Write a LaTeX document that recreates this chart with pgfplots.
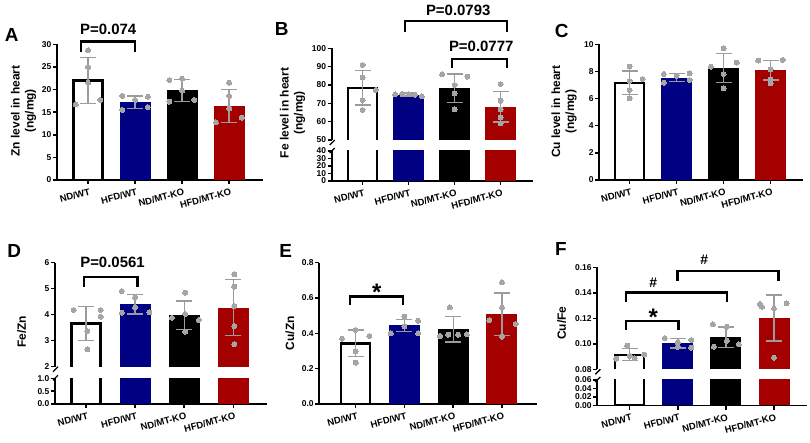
\documentclass[border=0pt]{standalone}
\usepackage{fontspec}
\setmainfont{Liberation Sans}
\usepackage{pgfplots}
\pgfplotsset{compat=1.18}
\definecolor{navyc}{RGB}{0,0,130}
\definecolor{redc}{RGB}{165,0,0}
\definecolor{ptc}{RGB}{165,165,165}
\definecolor{errc}{RGB}{155,155,155}
\pgfplotsset{
 base/.style={scale only axis, clip mode=individual, anchor=south west,
   axis y line*=left, axis line style={line width=1.8bp,-},
   tick style={line width=1.5bp, black}, major tick length=4bp, tick align=outside,
   yticklabel style={font=\bfseries\fontsize{8.5}{9}\selectfont, inner sep=1.5bp},
   scaled y ticks=false, /pgf/number format/assume math mode=true},
 lowerx/.style={axis x line*=bottom, xtick={0,1,2,3},
   xticklabels={ND/WT,HFD/WT,ND/MT-KO,HFD/MT-KO},
   xticklabel style={font=\bfseries\fontsize{9.5}{10}\selectfont, rotate=15, anchor=north east, inner sep=0pt, yshift=-4bp}},
 upperx/.style={axis x line=none, xtick=\empty},
 bwt/.style={ybar, bar width=29bp, bar shift=0pt, draw=black, line width=2.2bp, fill=white},
 bwf/.style={ybar, bar width=29bp, bar shift=0pt, draw=none, fill=white},
 wline/.style={black, line width=2.2bp, mark=none, line join=miter},
 bnv/.style={ybar, bar width=31bp, bar shift=0pt, draw=none, fill=navyc},
 bbk/.style={ybar, bar width=31bp, bar shift=0pt, draw=none, fill=black},
 brd/.style={ybar, bar width=31bp, bar shift=0pt, draw=none, fill=redc},
 errb/.style={draw=none, mark=none, error bars/.cd, y dir=both, y explicit,
   error bar style={draw=errc, line width=1.4bp},
   error mark options={draw=errc, line width=1.4bp, mark size=8bp, rotate=90}},
 pts/.style={only marks, mark=*, mark size=2.5bp, mark options={draw=ptc, fill=ptc, line width=0pt}},
}
\tikzset{brk/.style={line width=2.4bp, black},
 ptext/.style={font=\bfseries\fontsize{15}{15}\selectfont, inner sep=0pt},
 star/.style={font=\bfseries\fontsize{24}{24}\selectfont, inner sep=0pt, anchor=base},
 hash/.style={font=\bfseries\fontsize{14}{14}\selectfont, inner sep=0pt},
 ylab/.style={rotate=90, align=center, font=\bfseries\fontsize{12}{14}\selectfont, inner sep=0pt},
 plet/.style={font=\bfseries\fontsize{19}{19}\selectfont, inner sep=0pt},
 slash/.style={line width=1.3bp, black}}
\begin{document}
\begin{tikzpicture}
\useasboundingbox (0,0) rectangle (810bp,443bp);
% ---------------- A ----------------
\begin{axis}[base, lowerx, at={(57bp,263bp)}, width=206bp, height=135.7bp,
  xmin=-0.66, xmax=3.72, ymin=0, ymax=30, ytick={0,5,10,15,20,25,30}]
\addplot[bwt] coordinates {(0,22.0)};
\addplot[bnv] coordinates {(1,17.2)};
\addplot[bbk] coordinates {(2,19.8)};
\addplot[brd] coordinates {(3,16.4)};
\addplot[errb] coordinates {(0,22.0) +- (0,5.05) (1,17.2) +- (0,1.4) (2,19.8) +- (0,2.45) (3,16.4) +- (0,3.65)};
\addplot[pts] coordinates {(0,28.7) (0,25.0) (0,21.5) (-0.26,16.7) (0.26,17.7)
 (0.73,18.6) (1.27,18.4) (1,17.7) (0.73,15.5) (1.27,16.1)
 (1.73,22.1) (2,22.4) (2,19.75) (1.73,17.3) (2.26,17.7)
 (3,21.5) (3,18.6) (3,15.8) (3.27,13.8) (2.72,12.75)};
\draw[brk] (axis cs:-0.149,28.4) -- (axis cs:-0.149,30.6) -- (axis cs:1.0,30.6) -- (axis cs:1.0,28.4);
\node[ptext] at (axis cs:0.43,33.3) {P=0.074};
\end{axis}
% ---------------- B upper ----------------
\begin{axis}[base, upperx, at={(331.7bp,303bp)}, width=201.3bp, height=91.7bp,
  xmin=-0.67, xmax=3.706, ymin=50, ymax=100, ytick={50,60,70,80,90,100}]
\addplot[bwf] coordinates {(0,78.5)};
\addplot[wline] coordinates {(-0.315,50) (-0.315,78.5) (0.315,78.5) (0.315,50)};
\addplot[bnv] coordinates {(1,74.8)};
\addplot[bbk] coordinates {(2,78.3)};
\addplot[brd] coordinates {(3,68.1)};
\addplot[errb] coordinates {(0,78.5) +- (0,9.5) (1,74.8) +- (0,0.8) (2,78.3) +- (0,7.7) (3,68.1) +- (0,8.2)};
\addplot[pts] coordinates {(0,90.9) (0,84.2) (0.29,77.3) (0,71.8) (0,66.4)
 (0.71,74.9) (0.86,75.1) (1,74.9) (1.14,74.7) (1.29,73.9)
 (1.73,85.8) (2.28,84.5) (2,80.0) (2,75.5) (2,66.7)
 (3,80.5) (3,71.4) (3,66.7) (3,62.4) (3,59.1)};
\draw[brk] (axis cs:0.924,109.0) -- (axis cs:0.924,115.0) -- (axis cs:3.135,115.0) -- (axis cs:3.135,109.0);
\node[ptext] at (axis cs:2.08,120.5) {P=0.0793};
\draw[brk] (axis cs:1.94,89.1) -- (axis cs:1.94,94.2) -- (axis cs:3.135,94.2) -- (axis cs:3.135,89.1);
\node[ptext] at (axis cs:2.58,100.9) {P=0.0777};
\draw[slash] ([shift={(-2bp,-5bp)}]rel axis cs:0,0) -- ([shift={(3bp,0bp)}]rel axis cs:0,0);
\end{axis}
% ---------------- B lower ----------------
\begin{axis}[base, lowerx, at={(331.7bp,262bp)}, width=201.3bp, height=30bp,
  xmin=-0.67, xmax=3.706, ymin=0, ymax=40, ytick={0,10,20,30,40}]
\addplot[bwt] coordinates {(0,78.5)};
\addplot[bnv] coordinates {(1,74.8)};
\addplot[bbk] coordinates {(2,78.3)};
\addplot[brd] coordinates {(3,68.1)};
\draw[slash] ([shift={(-2bp,-2bp)}]rel axis cs:0,1) -- ([shift={(3bp,3bp)}]rel axis cs:0,1);
\end{axis}
% ---------------- C ----------------
\begin{axis}[base, lowerx, at={(599.3bp,263bp)}, width=203.7bp, height=135.7bp,
  xmin=-0.643, xmax=3.691, ymin=0, ymax=10, ytick={0,2,4,6,8,10}]
\addplot[bwt] coordinates {(0,7.17)};
\addplot[bnv] coordinates {(1,7.55)};
\addplot[bbk] coordinates {(2,8.26)};
\addplot[brd] coordinates {(3,8.08)};
\addplot[errb] coordinates {(0,7.17) +- (0,0.85) (1,7.55) +- (0,0.3) (2,8.26) +- (0,1.07) (3,8.08) +- (0,0.72)};
\addplot[pts] coordinates {(0,8.35) (0.28,7.44) (0,7.3) (0,6.63) (0,6.02)
 (0.73,7.81) (1,7.67) (1.28,7.86) (0.73,7.17) (1.28,7.37)
 (2,9.7) (1.73,8.35) (2.28,8.65) (2,7.81) (2,6.76)
 (2.74,8.8) (3.26,8.85) (3,8.16) (3,7.42) (3,7.13)};
\end{axis}
% ---------------- D upper ----------------
\begin{axis}[base, upperx, at={(55bp,76.3bp)}, width=211.7bp, height=104bp,
  xmin=-0.631, xmax=3.68, ymin=2, ymax=6, ytick={2,3,4,5,6}]
\addplot[bwf] coordinates {(0,3.66)};
\addplot[wline] coordinates {(-0.295,2) (-0.295,3.66) (0.295,3.66) (0.295,2)};
\addplot[bnv] coordinates {(1,4.40)};
\addplot[bbk] coordinates {(2,3.98)};
\addplot[brd] coordinates {(3,4.27)};
\addplot[errb] coordinates {(0,3.66) +- (0,0.66) (1,4.40) +- (0,0.37) (2,3.98) +- (0,0.55) (3,4.27) +- (0,1.08)};
\addplot[pts] coordinates {(-0.25,4.18) (0.3,4.18) (0.3,3.92) (0.03,3.37) (0.03,2.67)
 (0.73,4.91) (1,4.67) (0.73,4.08) (1,4.28) (1.29,4.09)
 (2.02,4.85) (2.02,4.03) (1.75,3.88) (2.3,3.8) (2.02,3.35)
 (3.02,5.55) (3.02,5.08) (3.02,4.33) (3.02,3.56) (3.02,2.87)};
\draw[brk] (axis cs:-0.035,5.08) -- (axis cs:-0.035,5.44) -- (axis cs:1.047,5.44) -- (axis cs:1.047,5.08);
\node[ptext] at (axis cs:0.54,6.0) {P=0.0561};
\draw[slash] ([shift={(-2bp,-5bp)}]rel axis cs:0,0) -- ([shift={(3bp,0bp)}]rel axis cs:0,0);
\end{axis}
% ---------------- D lower ----------------
\begin{axis}[base, lowerx, at={(55bp,39bp)}, width=211.7bp, height=25.7bp,
  xmin=-0.631, xmax=3.68, ymin=0, ymax=1, ytick={0,0.5,1}, yticklabels={0.0,0.5,1.0}]
\addplot[bwt] coordinates {(0,3.66)};
\addplot[bnv] coordinates {(1,4.40)};
\addplot[bbk] coordinates {(2,3.98)};
\addplot[brd] coordinates {(3,4.27)};
\draw[slash] ([shift={(-2bp,-2bp)}]rel axis cs:0,1) -- ([shift={(3bp,3bp)}]rel axis cs:0,1);
\end{axis}
% ---------------- E ----------------
\begin{axis}[base, lowerx, at={(319.3bp,39bp)}, width=217.7bp, height=141.3bp,
  xmin=-0.746, xmax=3.718, ymin=0, ymax=0.8, ytick={0,0.2,0.4,0.6,0.8}, yticklabels={0.0,0.2,0.4,0.6,0.8}]
\addplot[bwt] coordinates {(0,0.343)};
\addplot[bnv] coordinates {(1,0.445)};
\addplot[bbk] coordinates {(2,0.422)};
\addplot[brd] coordinates {(3,0.509)};
\addplot[errb] coordinates {(0,0.343) +- (0,0.075) (1,0.445) +- (0,0.035) (2,0.422) +- (0,0.072) (3,0.509) +- (0,0.12)};
\addplot[pts] coordinates {(0,0.419) (-0.28,0.37) (0.28,0.385) (0,0.298) (0,0.234)
 (0.72,0.40) (1,0.438) (1.28,0.40) (1,0.494) (1.28,0.472)
 (1.93,0.547) (1.73,0.385) (1.9,0.392) (2.1,0.392) (2.28,0.394)
 (3,0.689) (3,0.547) (2.74,0.475) (3.28,0.453) (3,0.381)};
\draw[brk] (axis cs:-0.117,0.561) -- (axis cs:-0.117,0.608) -- (axis cs:0.975,0.608) -- (axis cs:0.975,0.561);
\node[star] at (axis cs:0.43,0.587) {*};
\end{axis}
% ---------------- F upper ----------------
\begin{axis}[base, upperx, at={(597.3bp,73.7bp)}, width=209.7bp, height=102bp,
  xmin=-0.674, xmax=3.686, ymin=0.08, ymax=0.16, ytick={0.08,0.10,0.12,0.14,0.16},
  yticklabels={0.08,0.10,0.12,0.14,0.16}]
\addplot[bwf] coordinates {(0,0.0915)};
\addplot[wline] coordinates {(-0.301,0.08) (-0.301,0.0915) (0.301,0.0915) (0.301,0.08)};
\addplot[bnv] coordinates {(1,0.1004)};
\addplot[bbk] coordinates {(2,0.1053)};
\addplot[brd] coordinates {(3,0.1203)};
\addplot[errb] coordinates {(0,0.0915) +- (0,0.0047) (1,0.1004) +- (0,0.0037) (2,0.1053) +- (0,0.008) (3,0.1203) +- (0,0.018)};
\addplot[pts] coordinates {(-0.28,0.0883) (-0.05,0.0985) (0.3,0.0916) (0.1,0.0885) (0,0.0905)
 (0.73,0.1045) (1,0.101) (1.28,0.103) (1,0.0975) (1.28,0.097)
 (1.73,0.1153) (2.02,0.1135) (2.02,0.1025) (1.75,0.0977) (2.27,0.0995)
 (2.71,0.1312) (3.26,0.1317) (3,0.1275) (2.75,0.129) (3,0.0892)};
\draw[brk] (axis cs:-0.077,0.1108) -- (axis cs:-0.077,0.1181) -- (axis cs:1.01,0.1181) -- (axis cs:1.01,0.1108);
\node[star] at (axis cs:0.49,0.1142) {*};
\draw[brk] (axis cs:-0.077,0.133) -- (axis cs:-0.077,0.1401) -- (axis cs:2.017,0.1401) -- (axis cs:2.017,0.133);
\node[hash] at (axis cs:0.49,0.1479) {\#};
\draw[brk] (axis cs:0.99,0.1495) -- (axis cs:0.99,0.1573) -- (axis cs:3.09,0.1573) -- (axis cs:3.09,0.1495);
\node[hash] at (axis cs:1.55,0.1663) {\#};
\draw[slash] ([shift={(-2bp,-5bp)}]rel axis cs:0,0) -- ([shift={(3bp,0bp)}]rel axis cs:0,0);
\end{axis}
% ---------------- F lower ----------------
\begin{axis}[base, lowerx, at={(597.3bp,37.5bp)}, width=209.7bp, height=25.5bp,
  xmin=-0.674, xmax=3.686, ymin=0, ymax=0.06, ytick={0,0.02,0.04,0.06},
  yticklabels={0.00,0.02,0.04,0.06}]
\addplot[bwt] coordinates {(0,0.0915)};
\addplot[bnv] coordinates {(1,0.1004)};
\addplot[bbk] coordinates {(2,0.1053)};
\addplot[brd] coordinates {(3,0.1203)};
\draw[slash] ([shift={(-2bp,-2bp)}]rel axis cs:0,1) -- ([shift={(3bp,3bp)}]rel axis cs:0,1);
\end{axis}
% ---------------- labels ----------------
\node[ylab] at (23.5bp,332bp) {Zn level in heart\\(ng/mg)};
\node[ylab] at (292.5bp,330bp) {Fe level in heart\\(ng/mg)};
\node[ylab] at (564bp,331.3bp) {Cu level in heart\\(ng/mg)};
\node[ylab] at (21.7bp,111.3bp) {Fe/Zn};
\node[ylab] at (290bp,109.7bp) {Cu/Zn};
\node[ylab] at (561.7bp,119.7bp) {Cu/Fe};
\node[plet] at (11.7bp,408bp) {A};
\node[plet] at (281.7bp,413.8bp) {B};
\node[plet] at (561.7bp,412.2bp) {C};
\node[plet] at (14.2bp,192.2bp) {D};
\node[plet] at (285.8bp,192.2bp) {E};
\node[plet] at (560.8bp,193.8bp) {F};
\end{tikzpicture}
\end{document}
